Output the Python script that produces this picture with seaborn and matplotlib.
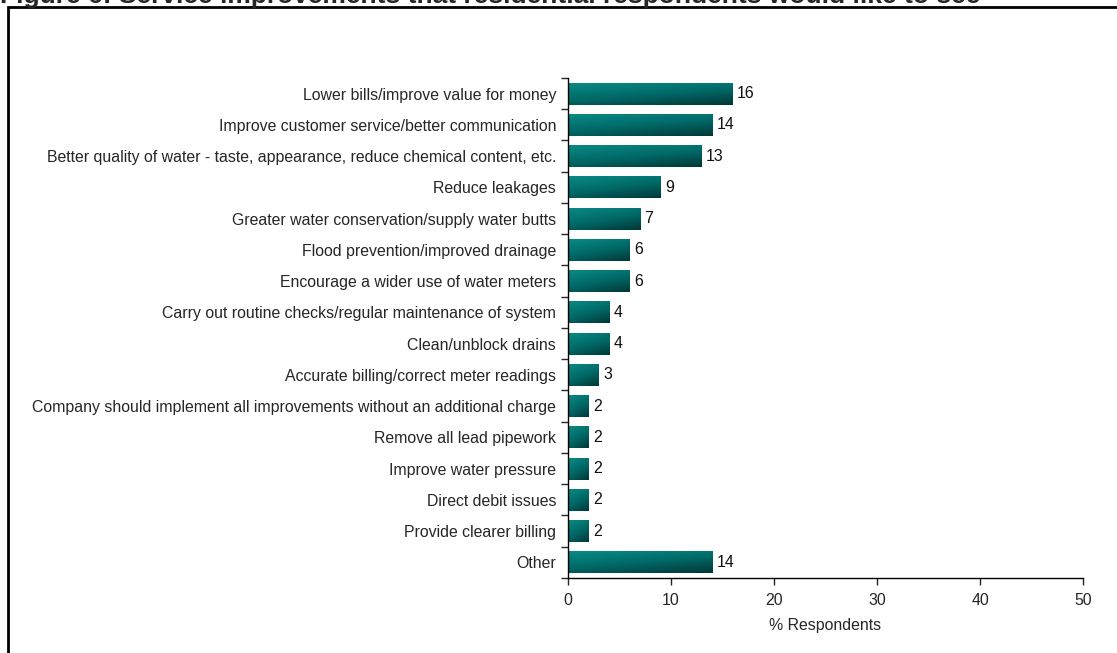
import numpy as np
import pandas as pd
import seaborn as sns
import matplotlib.pyplot as plt
from matplotlib.colors import LinearSegmentedColormap
from matplotlib.patches import Rectangle

categories = [
    "Lower bills/improve value for money",
    "Improve customer service/better communication",
    "Better quality of water - taste, appearance, reduce chemical content, etc.",
    "Reduce leakages",
    "Greater water conservation/supply water butts",
    "Flood prevention/improved drainage",
    "Encourage a wider use of water meters",
    "Carry out routine checks/regular maintenance of system",
    "Clean/unblock drains",
    "Accurate billing/correct meter readings",
    "Company should implement all improvements without an additional charge",
    "Remove all lead pipework",
    "Improve water pressure",
    "Direct debit issues",
    "Provide clearer billing",
    "Other",
]
values = [16, 14, 13, 9, 7, 6, 6, 4, 4, 3, 2, 2, 2, 2, 2, 14]
x_ticks = [0, 10, 20, 30, 40, 50]

df = pd.DataFrame({"category": categories, "pct": values})

sns.set_style("white")
plt.rcParams['font.family'] = ['Liberation Sans', 'DejaVu Sans']
fs = 11.4

fig = plt.figure(figsize=(11.17, 6.53), dpi=100)
ax = fig.add_axes([0.5085, 0.1149, 0.4611, 0.7657])

sns.barplot(data=df, x="pct", y="category", orient="h", color="#008080",
            width=0.7, ax=ax, edgecolor="none")

# gradient fill clipped to each bar (light teal top-left -> dark bottom-right)
teal = LinearSegmentedColormap.from_list("teal", ["#0A8A85", "#006A68", "#003838"])
gy, gx = np.mgrid[0:1:40j, 0:1:200j]
grad = 0.35 * gx + 0.65 * gy
for p in ax.patches:
    x0, y0 = p.get_x(), p.get_y()
    w, h = p.get_width(), p.get_height()
    p.set_facecolor("none")
    im = ax.imshow(grad, cmap=teal, aspect="auto", extent=[x0, x0 + w, y0 + h, y0],
                   origin="upper", zorder=2, interpolation="bilinear")
    im.set_clip_path(p)

ax.bar_label(ax.containers[0], labels=[str(v) for v in values], padding=3,
             fontsize=fs, color="#111111")

ax.set_xlim(0, 50)
ax.set_ylim(len(categories) - 0.5, -0.5)
ax.set_xticks(x_ticks)
ax.set_xlabel("% Respondents", fontsize=fs, labelpad=7)
ax.set_ylabel("")
ax.tick_params(axis="x", labelsize=fs, length=5, width=1, direction="out", pad=6)
ax.tick_params(axis="y", which="major", labelsize=fs, length=0, pad=8.5)
ax.set_yticks(np.arange(-0.5, len(categories)), minor=True)
ax.tick_params(axis="y", which="minor", length=5, width=1, direction="out")
ax.xaxis.set_ticks_position("bottom")
ax.yaxis.set_ticks_position("left")
sns.despine(ax=ax)
for s in ["left", "bottom"]:
    ax.spines[s].set_color("black")
    ax.spines[s].set_linewidth(1)

# figure frame and (cropped) title
fig.patches.append(Rectangle((8 / 1117, -0.1), 1.2, 1.1 - 7 / 653, transform=fig.transFigure,
                             fill=False, edgecolor="black", linewidth=2))
fig.text(0.0, 1 - 3 / 653,
         "Figure 6: Service improvements that residential respondents would like to see",
         fontsize=19, fontweight="bold", ha="left", va="baseline")

fig.savefig("out.png", dpi=100)
